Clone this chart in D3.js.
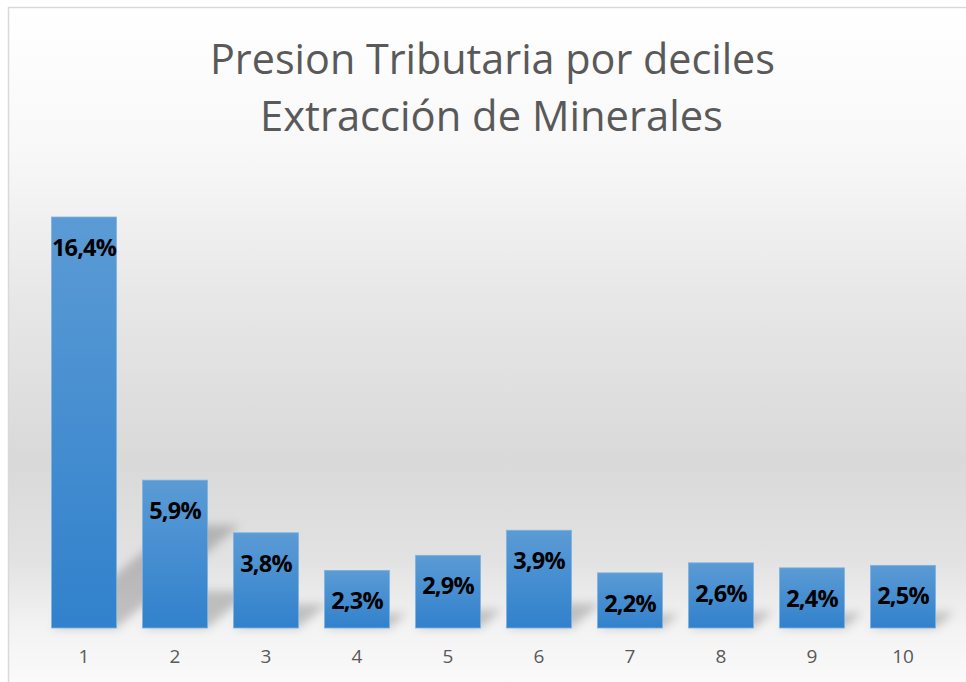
<!DOCTYPE html>
<html>
<head>
<meta charset="utf-8">
<script src="https://cdn.jsdelivr.net/npm/d3@7"></script>
<style>
html,body{margin:0;padding:0;background:#ffffff;}
svg{display:block;}
</style>
</head>
<body>
<svg id="chart" width="966" height="682"></svg>
<script>
const titleLines = ["Presion Tributaria por deciles", "Extracción de Minerales"];
const categories = ["1","2","3","4","5","6","7","8","9","10"];
const values = [16.4, 5.9, 3.8, 2.3, 2.9, 3.9, 2.2, 2.6, 2.4, 2.5];
const yDomain = [0, 18];

const W = 966, H = 682;
const svg = d3.select("#chart");
const defs = svg.append("defs");

// background gradient
const bg = defs.append("linearGradient").attr("id","bg")
  .attr("gradientUnits","userSpaceOnUse").attr("x1",0).attr("y1",7).attr("x2",0).attr("y2",700);
[[7,"#ffffff"],[150,"#f8f8f8"],[300,"#e7e7e7"],[460,"#d9d9d9"],[560,"#e2e2e2"],[628,"#f3f3f3"],[700,"#fcfcfc"]]
  .forEach(([y,c]) => bg.append("stop").attr("offset", ((y-7)/(700-7))).attr("stop-color", c));

const barGrad = defs.append("linearGradient").attr("id","barGrad")
  .attr("x1",0).attr("y1",0).attr("x2",0).attr("y2",1);
barGrad.append("stop").attr("offset",0).attr("stop-color","#5b9bd5");
barGrad.append("stop").attr("offset",1).attr("stop-color","#3181cc");

const blur = defs.append("filter").attr("id","shadowBlur")
  .attr("x","-50%").attr("y","-50%").attr("width","200%").attr("height","200%");
blur.append("feGaussianBlur").attr("stdDeviation",5);

svg.append("rect").attr("x",8.5).attr("y",7.5).attr("width",980).attr("height",700)
  .attr("fill","url(#bg)").attr("stroke","#d9d9d9").attr("stroke-width",1.5);

// title
const title = svg.append("g").attr("font-family","'Open Sans', 'Noto Sans', sans-serif")
  .attr("fill","#595959").attr("font-size",42);
title.append("text").attr("x",492.5).attr("y",74).attr("text-anchor","middle")
  .attr("textLength",565).attr("lengthAdjust","spacingAndGlyphs").text(titleLines[0]);
title.append("text").attr("x",491.5).attr("y",131).attr("text-anchor","middle")
  .attr("textLength",463).attr("lengthAdjust","spacingAndGlyphs").text(titleLines[1]);

// scales
const x = d3.scaleBand().domain(categories).range([38.5, 948.5])
  .paddingInner(0.286).paddingOuter(0.143);
const y = d3.scaleLinear().domain(yDomain).range([628, 628 - 18*25.06]);

const data = categories.map((c,i) => ({c, v: values[i]}));

// shadows (perspective, cast to upper right)
svg.append("g").attr("filter","url(#shadowBlur)")
  .selectAll("path").data(data).join("path")
  .attr("d", d => {
    const x0 = x(d.c), x1 = x0 + x.bandwidth();
    const h = y(0) - y(d.v);
    const dx = 0.3*h, hh = 0.25*h;
    return `M${x0},${y(0)} L${x1},${y(0)} L${x1+dx},${y(0)-hh} L${x0+dx},${y(0)-hh} Z`;
  })
  .attr("fill","#000").attr("opacity",0.2);

// bars
svg.append("g").selectAll("rect").data(data).join("rect")
  .attr("x", d => x(d.c)).attr("y", d => y(d.v))
  .attr("width", x.bandwidth()).attr("height", d => y(0) - y(d.v))
  .attr("fill","url(#barGrad)").attr("stroke","#7eb1e0").attr("stroke-width",0.8);

// labels
svg.append("g").selectAll("text").data(data).join("text")
  .attr("x", d => x(d.c) + x.bandwidth()/2).attr("y", d => y(d.v) + 39)
  .attr("text-anchor","middle")
  .attr("font-family","'Open Sans', 'Noto Sans', sans-serif")
  .attr("font-weight","bold").attr("font-size",23.5).attr("fill","#000")
  .attr("letter-spacing",-0.8)
  .text(d => d3.format(".1f")(d.v).replace(".", ",") + "%");

// x axis
const xAxis = svg.append("g").attr("transform","translate(0,628)")
  .call(d3.axisBottom(x).tickSize(0).tickPadding(22));
xAxis.select(".domain").remove();
xAxis.selectAll("text").attr("font-family","'Open Sans', 'Noto Sans', sans-serif")
  .attr("font-size",19).attr("fill","#595959");
</script>
</body>
</html>
